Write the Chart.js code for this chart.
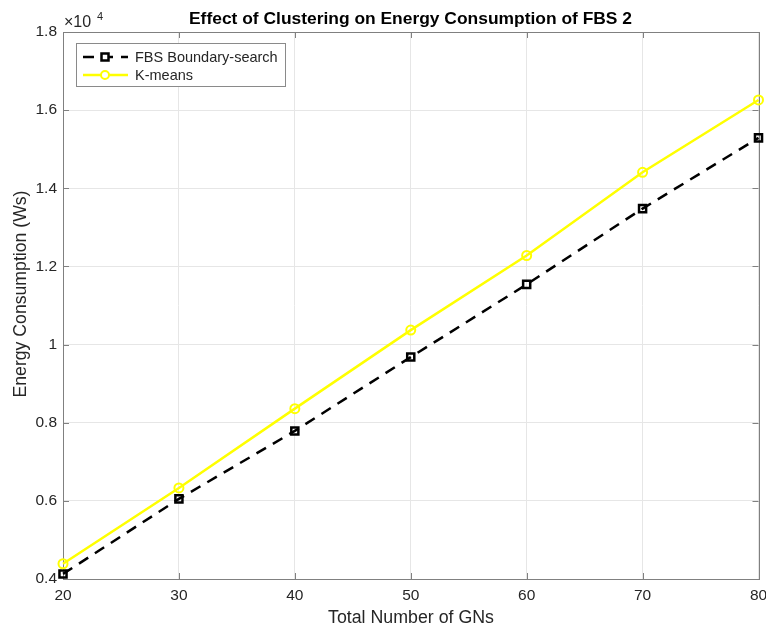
<!DOCTYPE html>
<html>
<head>
<meta charset="utf-8">
<script src="https://cdn.jsdelivr.net/npm/chart.js@4/dist/chart.umd.min.js"></script>
<style>
html,body{margin:0;padding:0;background:#fff;}
#wrap{width:766px;height:628px;position:relative;}
</style>
</head>
<body>
<div id="wrap"><canvas id="c" width="766" height="628"></canvas></div>
<script>
// ---- Data ----
const gnCounts = [20, 30, 40, 50, 60, 70, 80];
const fbsBoundary = [4130, 6050, 7790, 9680, 11540, 13480, 15290];
const kMeans = [4390, 6330, 8360, 10370, 12280, 14410, 16260];
const yTickValues = [4000, 6000, 8000, 10000, 12000, 14000, 16000, 18000];
const xTickValues = [20, 30, 40, 50, 60, 70, 80];
const seriesNames = ['FBS Boundary-search', 'K-means'];
const titleText = 'Effect of Clustering on Energy Consumption of FBS 2';
const xLabel = 'Total Number of GNs';
const yLabel = 'Energy Consumption (Ws)';

const FONT = '"Liberation Sans", Arial, Helvetica, sans-serif';
const AXIS = '#808080';
const TXT = '#262626';

function fitText(ctx, text, cx, baseY, targetW) {
  const w = ctx.measureText(text).width;
  ctx.save();
  ctx.translate(cx, baseY);
  ctx.scale(targetW / w, 1);
  ctx.textAlign = 'center'; ctx.textBaseline = 'alphabetic';
  ctx.fillText(text, 0, 0);
  ctx.restore();
}

const decor = {
  id: 'decor',
  beforeDatasetsDraw(chart) {
    const {ctx, chartArea: a, scales: {x, y}} = chart;
    ctx.save();
    ctx.strokeStyle = AXIS; ctx.lineWidth = 1;
    ctx.beginPath();
    xTickValues.forEach(v => {
      const px = Math.round(x.getPixelForValue(v)) + 0.5;
      ctx.moveTo(px, a.bottom); ctx.lineTo(px, a.bottom - 6);
      ctx.moveTo(px, a.top); ctx.lineTo(px, a.top + 6);
    });
    yTickValues.forEach(v => {
      const py = Math.round(y.getPixelForValue(v)) + 0.5;
      ctx.moveTo(a.left, py); ctx.lineTo(a.left + 6, py);
      ctx.moveTo(a.right, py); ctx.lineTo(a.right - 6, py);
    });
    ctx.stroke();
    ctx.strokeRect(Math.round(a.left) + 0.5, Math.round(a.top) + 0.5, Math.round(a.right - a.left), Math.round(a.bottom - a.top));
    ctx.restore();
  },
  afterDraw(chart) {
    const {ctx} = chart;
    ctx.save();
    ctx.fillStyle = '#000';
    ctx.font = 'bold 17px ' + FONT;
    fitText(ctx, titleText, 410.5, 24, 443);
    ctx.fillStyle = TXT;
    ctx.font = '17.5px ' + FONT;
    fitText(ctx, xLabel, 411, 623, 166);
    ctx.save();
    ctx.translate(26, 294);
    ctx.rotate(-Math.PI / 2);
    ctx.font = '17.5px ' + FONT;
    fitText(ctx, yLabel, 0, 0, 207);
    ctx.restore();
    // exponent
    ctx.textAlign = 'left'; ctx.textBaseline = 'alphabetic';
    ctx.font = '16px ' + FONT;
    ctx.fillText('\u00d710', 64, 27);
    ctx.font = '11px ' + FONT;
    ctx.fillText('4', 97, 20);
    // legend
    const lx = 76.5, ly = 43.5, lw = 209, lh = 43;
    ctx.fillStyle = '#fff';
    ctx.fillRect(lx, ly, lw, lh);
    ctx.strokeStyle = '#8a8a8a'; ctx.lineWidth = 1;
    ctx.strokeRect(lx, ly, lw, lh);
    const ds = chart.data.datasets;
    [57, 75].forEach((yy, i) => {
      const d = ds[i];
      ctx.strokeStyle = d.borderColor; ctx.lineWidth = d.borderWidth;
      ctx.setLineDash(d.borderDash || []);
      ctx.beginPath(); ctx.moveTo(83, yy); ctx.lineTo(128, yy); ctx.stroke();
      ctx.setLineDash([]);
      ctx.lineWidth = d.pointBorderWidth;
      ctx.strokeStyle = d.pointBorderColor;
      ctx.fillStyle = '#fff';
      ctx.beginPath();
      if (d.pointStyle === 'rect') { ctx.rect(105 - 3.5, yy - 3.5, 7, 7); }
      else { ctx.arc(105, yy, 4, 0, Math.PI * 2); }
      ctx.fill(); ctx.stroke();
      ctx.fillStyle = TXT; ctx.font = '14.5px ' + FONT;
      ctx.textAlign = 'left'; ctx.textBaseline = 'middle';
      ctx.fillText(seriesNames[i], 135, yy + 0.5);
    });
    ctx.restore();
  }
};

new Chart(document.getElementById('c'), {
  type: 'line',
  data: {
    datasets: [
      {
        label: seriesNames[0],
        data: gnCounts.map((g, i) => ({x: g, y: fbsBoundary[i]})),
        borderColor: '#000', borderWidth: 2.5, borderDash: [11, 8],
        pointStyle: 'rect', pointRadius: 5, pointBorderWidth: 2.5,
        pointBorderColor: '#000', pointBackgroundColor: 'rgba(255,255,255,0)',
        tension: 0, order: 2
      },
      {
        label: seriesNames[1],
        data: gnCounts.map((g, i) => ({x: g, y: kMeans[i]})),
        borderColor: '#ffff00', borderWidth: 2.5,
        pointStyle: 'circle', pointRadius: 4.5, pointBorderWidth: 2,
        pointBorderColor: '#ffff00', pointBackgroundColor: 'rgba(255,255,255,0)',
        tension: 0, order: 1
      }
    ]
  },
  options: {
    responsive: false, animation: false, clip: false,
    layout: {padding: {top: 32, right: 7, left: 0, bottom: 0}},
    plugins: {legend: {display: false}, title: {display: false}, tooltip: {enabled: false}},
    scales: {
      x: {
        type: 'linear', min: 20, max: 80,
        afterBuildTicks: s => { s.ticks = xTickValues.map(v => ({value: v})); },
        afterFit: s => { s.height = 49; s.paddingLeft = 0; s.paddingRight = 0; },
        grid: {color: '#e6e6e6', drawTicks: false, lineWidth: 1},
        border: {display: false},
        ticks: {padding: 7, color: TXT, font: {family: FONT, size: 15.5}, maxRotation: 0}
      },
      y: {
        type: 'linear', min: 4000, max: 18000,
        afterBuildTicks: s => { s.ticks = yTickValues.map(v => ({value: v})); },
        afterFit: s => { s.width = 63; s.paddingTop = 0; s.paddingBottom = 0; },
        grid: {color: '#e6e6e6', drawTicks: false, lineWidth: 1},
        border: {display: false},
        ticks: {padding: 6, color: TXT, font: {family: FONT, size: 15.5},
          callback: v => String(Math.round(v / 1000) / 10)}
      }
    }
  },
  plugins: [decor]
});
</script>
</body>
</html>
